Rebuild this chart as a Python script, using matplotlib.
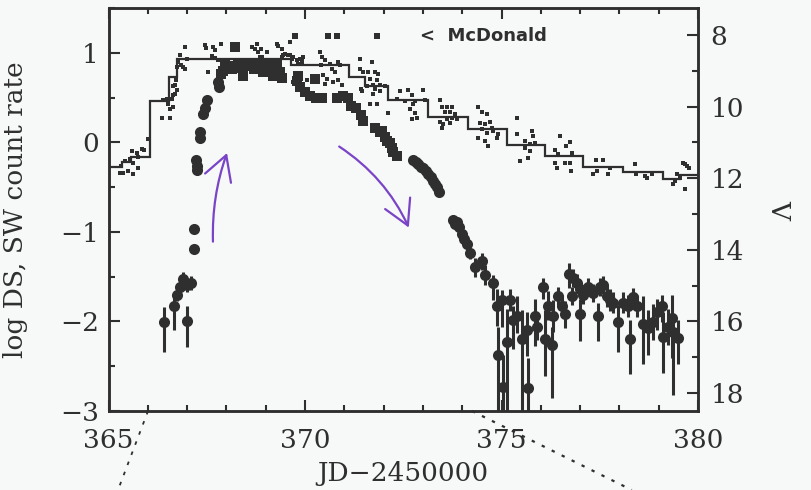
import matplotlib.pyplot as plt
from matplotlib.lines import Line2D
from matplotlib.ticker import MultipleLocator

# --- SW / DS count rate (log), left axis ---
# rise and late decline: circles with error bars
sw_day = [366.41, 366.67, 366.75, 366.82, 366.90, 367.00, 367.10, 367.00, 367.18, 367.18,
          367.22, 367.24, 367.26, 367.33, 367.34, 367.40, 367.46, 367.50, 367.79, 367.82,
          372.75, 372.82, 372.88, 372.95, 373.00, 373.07, 373.13, 373.20, 373.26, 373.32,
          373.36, 373.42, 373.77, 373.82, 373.86, 373.92, 374.00, 374.05, 374.12, 374.20,
          374.33, 374.50, 374.58, 374.79, 374.88, 374.92, 375.04, 375.01, 375.14, 375.21,
          375.29, 375.39, 375.52, 375.65, 375.67, 375.85, 375.90, 376.05, 376.11, 376.18,
          376.28, 376.31, 376.44, 376.54, 376.62, 376.72, 376.82, 376.92, 377.00, 376.79,
          377.00, 377.07, 377.20, 377.33, 377.45, 377.50, 377.58, 377.68, 377.76, 377.84,
          377.96, 378.09, 378.22, 378.27, 378.35, 378.45, 378.60, 378.73, 378.86, 378.96,
          379.08, 379.11, 379.24, 379.34, 379.37, 379.49]
sw_log = [-2.01, -1.83, -1.70, -1.61, -1.53, -1.59, -1.57, -1.99, -1.19, -0.97,
          -0.20, -0.26, -0.31, 0.11, 0.05, 0.32, 0.38, 0.47, 0.67, 0.62,
          -0.20, -0.22, -0.24, -0.27, -0.29, -0.32, -0.35, -0.39, -0.43, -0.47,
          -0.50, -0.56, -0.87, -0.91, -0.89, -0.94, -1.02, -1.08, -1.14, -1.24,
          -1.39, -1.33, -1.48, -1.57, -1.83, -2.38, -2.73, -1.76, -2.23, -1.76,
          -1.98, -1.94, -2.20, -2.09, -2.74, -1.94, -2.06, -1.62, -2.20, -1.83,
          -2.26, -1.94, -1.72, -1.83, -1.92, -1.47, -1.51, -1.57, -1.64, -1.72,
          -1.92, -1.70, -1.62, -1.68, -1.94, -1.62, -1.59, -1.72, -1.76, -1.79,
          -2.01, -1.79, -1.83, -2.20, -1.73, -1.83, -2.03, -2.07, -2.01, -1.90,
          -1.83, -2.17, -2.06, -1.96, -2.12, -2.18]
sw_err_lo = [0.33, 0.26, 0.07, 0.06, 0.06, 0.08, 0.08, 0.29, 0.03, 0.03,
             0.05, 0.05, 0.05, 0.03, 0.03, 0.03, 0.03, 0.03, 0.02, 0.02,
             0.02, 0.02, 0.02, 0.02, 0.02, 0.02, 0.02, 0.02, 0.02, 0.02,
             0.02, 0.02, 0.04, 0.04, 0.04, 0.04, 0.05, 0.05, 0.06, 0.06,
             0.11, 0.09, 0.11, 0.19, 0.22, 0.80, 0.50, 0.30, 0.80, 0.12,
             0.33, 0.19, 0.80, 0.30, 0.50, 0.33, 0.15, 0.13, 0.41, 0.15,
             0.60, 0.18, 0.10, 0.12, 0.15, 0.16, 0.10, 0.10, 0.10, 0.10,
             0.30, 0.10, 0.10, 0.10, 0.28, 0.10, 0.10, 0.12, 0.12, 0.12,
             0.33, 0.12, 0.12, 0.39, 0.12, 0.12, 0.44, 0.30, 0.20, 0.20,
             0.18, 0.41, 0.20, 0.45, 0.70, 0.30]
sw_err_hi = [0.17, 0.11, 0.07, 0.06, 0.08, 0.08, 0.08, 0.16, 0.03, 0.03,
             0.05, 0.05, 0.05, 0.03, 0.03, 0.03, 0.03, 0.03, 0.02, 0.02,
             0.02, 0.02, 0.02, 0.02, 0.02, 0.02, 0.02, 0.02, 0.02, 0.02,
             0.02, 0.02, 0.04, 0.04, 0.04, 0.04, 0.05, 0.05, 0.06, 0.06,
             0.10, 0.09, 0.11, 0.09, 0.19, 0.32, 0.35, 0.11, 0.37, 0.12,
             0.15, 0.22, 0.33, 0.19, 0.33, 0.19, 0.15, 0.10, 0.33, 0.17,
             0.20, 0.18, 0.10, 0.12, 0.15, 0.12, 0.10, 0.10, 0.10, 0.10,
             0.17, 0.10, 0.10, 0.10, 0.15, 0.10, 0.10, 0.12, 0.12, 0.12,
             0.19, 0.12, 0.12, 0.22, 0.10, 0.12, 0.31, 0.20, 0.20, 0.15,
             0.12, 0.28, 0.20, 0.25, 0.20, 0.20]

# plateau: squares
ds_day = [367.87, 367.92, 367.97, 368.05, 368.14, 368.22, 368.30, 368.36, 368.42, 368.52,
          368.62, 368.70, 368.77, 368.85, 368.93, 369.03, 369.10, 369.19, 369.28, 369.36,
          369.41, 369.79, 369.82, 369.87, 370.00, 370.13, 370.25, 370.28, 370.43, 370.81,
          370.97, 371.10, 371.18, 371.30, 371.43, 371.48, 371.78, 371.91, 371.96, 372.04,
          372.09, 372.17, 372.21, 372.25, 372.34]
ds_log = [0.76, 0.80, 0.89, 0.85, 0.82, 1.06, 0.89, 0.83, 0.74, 0.88,
          0.85, 0.82, 0.89, 0.84, 0.78, 0.88, 0.81, 0.74, 0.86, 0.78,
          0.72, 0.69, 0.74, 0.62, 0.56, 0.52, 0.71, 0.50, 0.49, 0.50,
          0.52, 0.50, 0.41, 0.38, 0.30, 0.24, 0.16, 0.11, 0.13, 0.06,
          0.02, -0.01, -0.06, -0.11, -0.15]

# --- V photometry, right axis ---
v_day = [365.29, 365.32, 365.37, 365.42, 365.50, 365.55, 365.60, 365.62, 365.63, 365.73,
         365.74, 365.75, 365.85, 365.90, 366.00,
         366.36, 366.56, 366.39, 366.49, 366.51, 366.62, 366.64, 366.57, 366.65, 366.69,
         366.64, 366.69, 366.72, 366.74, 366.77, 366.84, 366.75, 366.90, 366.95, 366.82, 367.00,
         366.95, 367.46, 367.48, 367.66, 367.71, 367.86, 367.63, 367.72, 367.79, 367.53,
         368.65, 368.73, 368.78, 368.80, 368.86, 368.87, 368.91, 369.03, 369.29, 369.31,
         369.41, 369.42, 369.44, 369.49, 369.57, 369.62, 369.63, 369.67, 369.69, 369.70,
         369.80, 369.81, 369.87, 369.92, 369.93, 369.95, 370.05,
         370.38, 370.43, 370.51, 370.64, 370.40, 370.84, 370.89, 370.68, 370.76, 370.46,
         370.56, 370.71, 370.85, 370.94, 370.52,
         371.40, 371.70, 371.41, 371.48, 371.60, 371.78, 371.86, 371.65, 371.83, 371.72,
         371.58, 371.42, 371.79, 371.91, 372.04, 371.45, 371.73, 371.92, 371.66, 371.84, 372.11,
         372.34, 372.42, 372.54, 372.62, 372.67, 372.72, 372.73, 372.75, 372.80, 372.81,
         372.85, 373.00, 373.05,
         373.43, 373.44, 373.48, 373.49, 373.51, 373.56, 373.61, 373.62, 373.69, 373.70,
         373.74, 373.75, 373.82, 373.87,
         374.40, 374.41, 374.45, 374.50, 374.51, 374.58, 374.59, 374.63, 374.64, 374.66,
         374.71, 374.76, 374.78, 374.88, 374.91,
         375.39, 375.40, 375.47, 375.60, 375.61, 375.67, 375.72, 375.73, 375.78, 375.80, 375.85,
         376.36, 376.37, 376.41, 376.44, 376.49, 376.62, 376.64, 376.74, 376.75, 376.76, 376.79,
         377.33, 377.40, 377.43, 377.58, 377.71, 377.76,
         378.40, 378.41, 378.65, 378.70, 378.83,
         379.36, 379.41, 379.47, 379.54, 379.61, 379.67, 379.68, 379.73, 379.77]
v_mag = [11.86, 11.67, 11.86, 11.53, 11.81, 11.47, 11.25, 11.58, 11.89, 11.31,
         11.72, 11.42, 11.19, 11.22, 10.92,
         10.33, 10.33, 9.83, 9.80, 9.92, 9.78, 10.00, 10.08, 9.69, 9.64,
         9.44, 9.39, 9.25, 9.53, 8.75, 8.83, 8.89, 8.89, 8.94, 8.56, 8.67,
         8.33, 8.28, 8.36, 8.33, 8.42, 8.25, 8.58, 8.64, 8.69, 9.03,
         8.33, 8.39, 8.25, 8.47, 8.61, 8.39, 8.61, 8.47, 8.25, 8.31,
         8.39, 8.61, 8.56, 8.53, 8.56, 8.19, 8.56, 8.67, 8.61, 9.31,
         8.69, 8.81, 8.67, 8.75, 8.67, 8.61, 9.25,
         8.47, 8.61, 8.69, 8.80, 8.83, 8.75, 8.83, 8.94, 9.03, 9.11,
         9.22, 9.31, 9.25, 9.39, 9.36,
         8.67, 8.75, 8.94, 9.03, 9.03, 9.03, 9.08, 9.22, 9.25, 9.39,
         9.44, 9.50, 9.50, 9.39, 9.44, 9.58, 9.64, 9.58, 9.92, 9.94, 10.19,
         9.78, 9.58, 9.86, 9.53, 10.06, 9.67, 10.36, 9.94, 9.86, 10.19,
         10.33, 9.53, 9.81,
         9.81, 10.42, 10.61, 10.00, 10.50, 10.14, 10.00, 10.36, 10.14, 10.47,
         10.00, 10.33, 10.22, 10.36,
         10.00, 10.89, 10.47, 10.14, 10.64, 10.50, 10.97, 10.22, 10.75, 11.11,
         10.42, 10.61, 10.69, 10.89, 10.78,
         10.33, 10.78, 11.53, 10.97, 11.17, 11.44, 11.06, 11.25, 10.69, 10.83, 11.03,
         11.22, 11.58, 11.72, 11.33, 10.81, 11.58, 11.11, 11.00, 11.58, 11.81, 11.31,
         11.89, 11.50, 11.81, 11.50, 11.89, 11.72,
         11.61, 11.89, 11.94, 12.00, 11.89,
         12.17, 12.08, 11.89, 12.00, 11.58, 11.61, 12.31, 11.67, 11.72]

# binned V light curve
bin_edges = [365.0, 365.34, 365.57, 366.06, 366.54, 366.74, 369.65, 371.12, 371.53, 372.11,
             373.13, 374.15, 375.14, 376.11, 377.07, 378.09, 379.11, 379.54, 380.0]
bin_mag = [11.69, 11.56, 11.42, 9.86, 9.17, 8.68, 8.83, 9.17, 9.44, 9.83,
           10.28, 10.64, 11.08, 11.39, 11.69, 11.83, 12.03, 11.92]

# McDonald limits
mc_day = [369.75, 370.59, 370.82, 371.84]
mc_mag = [8.03, 8.03, 8.03, 8.03]

ink = '#2f2f2f'
purple = '#7a44c6'
serif = 'DejaVu Serif'

fig = plt.figure(figsize=(8.11, 4.90), dpi=100)
fig.patch.set_facecolor('#f7f8f8')
ax = fig.add_axes([0.1338, 0.1612, 0.7269, 0.8225])
ax.set_facecolor('none')
ax2 = ax.twinx()

ax.set_xlim(365, 380)
ax.set_ylim(-3, 1.5)
ax2.set_ylim(18.5, 7.25)  # V = 11 - 2.5 log

ax2.stairs(bin_mag, bin_edges, baseline=None, color=ink, lw=1.6)
ax2.plot(v_day, v_mag, 's', color=ink, ms=2.6, mew=0)
ax2.plot(mc_day, mc_mag, 's', color=ink, ms=4.5, mew=0)
ax2.text(372.93, 8.03, '<  McDonald', fontsize=13, fontweight='bold',
         family='DejaVu Sans', color=ink, va='center', ha='left')

ax.errorbar(sw_day, sw_log, yerr=[sw_err_lo, sw_err_hi], fmt='o', color=ink,
            ms=8, elinewidth=2.2, capsize=0, mew=0)
ax.plot(ds_day, ds_log, 's', color=ink, ms=7, mew=0)

# hand-drawn arrows
ax.annotate('', xy=(368.04, -0.09), xytext=(367.66, -1.14),
            arrowprops=dict(arrowstyle='->,head_length=0.8,head_width=0.45',
                            color=purple, lw=1.6, mutation_scale=22,
                            connectionstyle='arc3,rad=-0.1'))
ax.annotate('', xy=(372.67, -0.98), xytext=(370.81, -0.03),
            arrowprops=dict(arrowstyle='->,head_length=0.8,head_width=0.45',
                            color=purple, lw=1.6, mutation_scale=22,
                            connectionstyle='arc3,rad=-0.15'))

# axes styling
for a in (ax, ax2):
    for s in a.spines.values():
        s.set_linewidth(1.8)
        s.set_color(ink)

ax.xaxis.set_major_locator(MultipleLocator(5))
ax.xaxis.set_minor_locator(MultipleLocator(1))
ax.yaxis.set_major_locator(MultipleLocator(1))
ax.yaxis.set_minor_locator(MultipleLocator(0.5))
ax2.yaxis.set_major_locator(MultipleLocator(2))
ax2.yaxis.set_minor_locator(MultipleLocator(1))

ax.tick_params(axis='x', which='both', direction='in', top=True, bottom=True,
               color=ink, width=1.5, labelsize=19, labelcolor=ink, pad=12)
ax.tick_params(axis='y', which='both', direction='in', left=True, right=False,
               color=ink, width=1.5, labelsize=19, labelcolor=ink, pad=7)
ax2.tick_params(axis='y', which='both', direction='in', right=True, left=False,
                color=ink, width=1.5, labelsize=19, labelcolor=ink, pad=9)
for a in (ax, ax2):
    a.tick_params(which='major', length=8)
    a.tick_params(which='minor', length=4)
    for lab in a.get_xticklabels() + a.get_yticklabels():
        lab.set_family(serif)

ax.set_xlabel('JD\u22122450000', fontsize=19, family=serif, color=ink, labelpad=6)
ax.set_ylabel('log DS, SW count rate', fontsize=19, family=serif, color=ink)
ax.yaxis.set_label_coords(-0.137, 0.5)
ax2.set_ylabel('V', fontsize=19, family=serif, color=ink, rotation=270, labelpad=34)

# dotted guide lines below the axis
fig.add_artist(Line2D([0.1825, 0.1455], [0.1612, 0.0], ls=(0, (2, 4)), lw=1.3, color=ink))
fig.add_artist(Line2D([0.582, 0.779], [0.1612, 0.0], ls=(0, (1.5, 3.5)), lw=1.6, color=ink))

fig.savefig('out.png', dpi=100, facecolor=fig.get_facecolor())
